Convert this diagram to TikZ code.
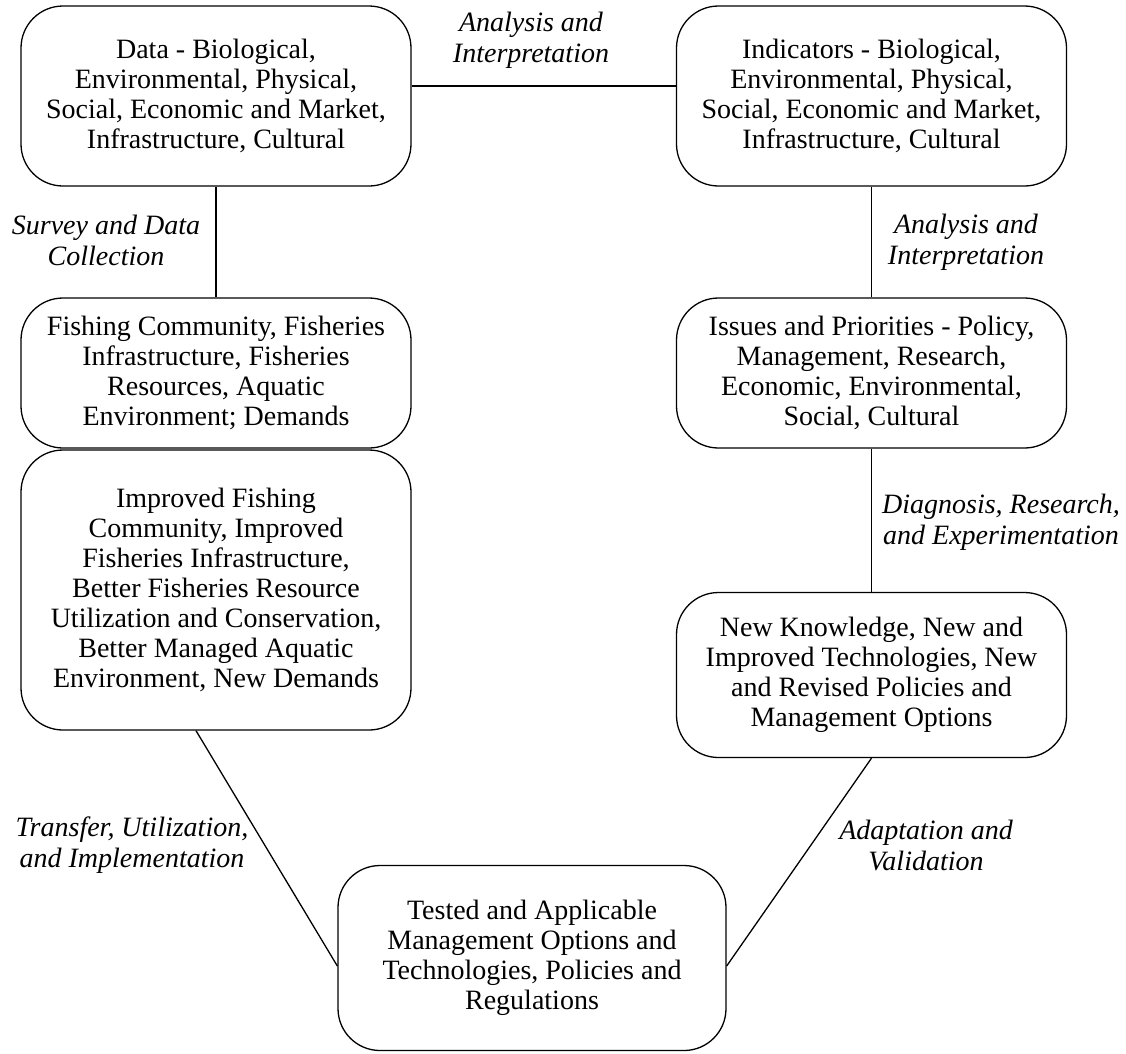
\documentclass[tikz,border=0pt]{standalone}
\usepackage{fontspec}
\setmainfont{Liberation Serif}
\usepackage{tikz}
\usetikzlibrary{calc}

\begin{document}
\begin{tikzpicture}[x=1pt,y=-1pt,line width=1.3pt,
  box/.style={draw,rounded corners=42pt,align=center,minimum width=390pt,inner sep=0pt,font=\fontsize{28}{30}\selectfont},
  lab/.style={align=center,inner sep=0pt,font=\fontsize{28}{31}\selectfont\itshape}]
\useasboundingbox (0,0) rectangle (1126,1053);
\node[box,minimum height=180pt] (data) at (216,96) {Data - Biological,\\Environmental, Physical,\\Social, Economic and Market,\\Infrastructure, Cultural};
\node[box,minimum height=180pt] (ind) at (871.5,96) {Indicators - Biological,\\Environmental, Physical,\\Social, Economic and Market,\\Infrastructure, Cultural};
\node[box,minimum height=150pt] (fish) at (216,373) {Fishing Community, Fisheries\\Infrastructure, Fisheries\\Resources, Aquatic\\Environment; Demands};
\node[box,minimum height=150pt] (issues) at (871.5,373) {Issues and Priorities - Policy,\\Management, Research,\\Economic, Environmental,\\Social, Cultural};
\node[box,minimum height=280pt] (improved) at (216,590) {Improved Fishing\\Community, Improved\\Fisheries Infrastructure,\\Better Fisheries Resource\\Utilization and Conservation,\\Better Managed Aquatic\\Environment, New Demands};
\node[box,minimum height=165pt] (newk) at (871.5,675) {New Knowledge, New and\\Improved Technologies, New\\and Revised Policies and\\Management Options};
\node[box,minimum width=388pt,minimum height=185pt] (tested) at (532,958) {Tested and Applicable\\Management Options and\\Technologies, Policies and\\Regulations};
\draw ($(data.east)+(0,-10)$) -- ($(ind.west)+(0,-10)$);
\draw (data.south) -- (fish.north);
\draw (ind.south) -- (issues.north);
\draw (issues.south) -- (newk.north);
\draw ($(improved.south)+(-20,0)$) -- ($(tested.west)+(0,8)$);
\draw ($(newk.south)+(0,0)$) -- ($(tested.east)+(0,8)$);
\node[lab] (l1) at (531,40) {Analysis and\\Interpretation};
\node[lab] (l2) at (106,240) {Survey and Data\\Collection};
\node[lab] (l3) at (966,242) {Analysis and\\Interpretation};
\node[lab] (l4) at (1001,522) {Diagnosis, Research,\\and Experimentation};
\node[lab] (l5) at (132,845) {Transfer, Utilization,\\and Implementation};
\node[lab] (l6) at (926,845) {Adaptation and\\Validation};
\end{tikzpicture}
\end{document}
